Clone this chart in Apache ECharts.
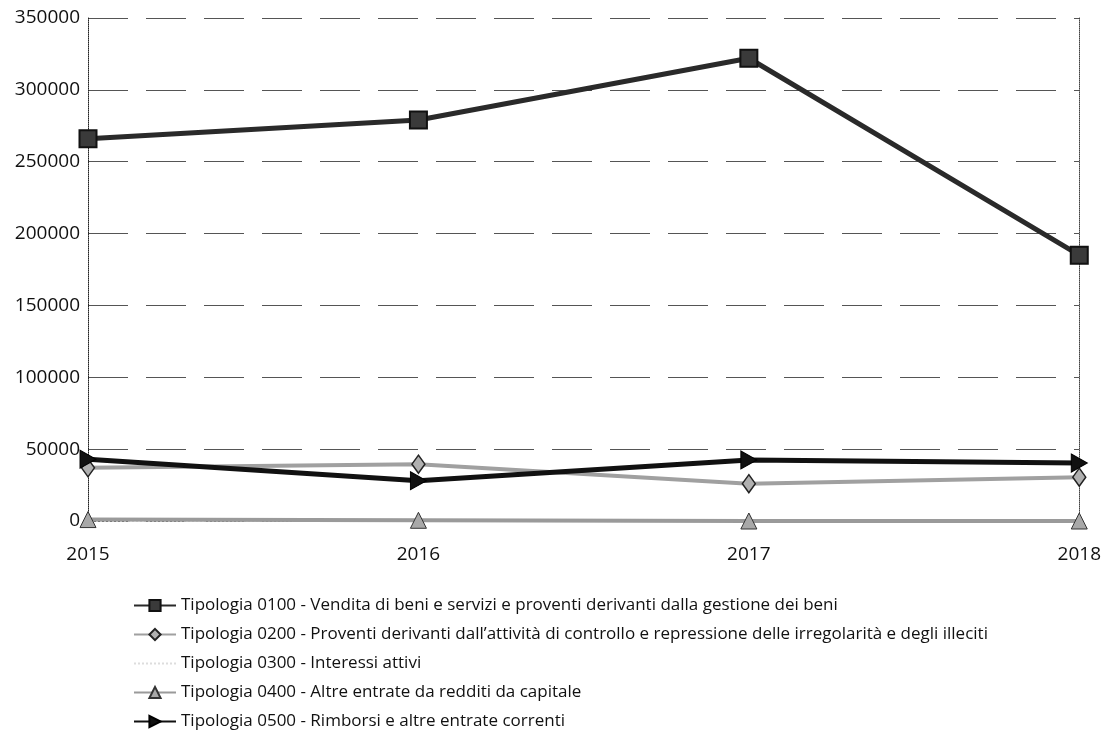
<!DOCTYPE html>
<html>
<head>
<meta charset="utf-8">
<script src="https://cdn.jsdelivr.net/npm/echarts@6/dist/echarts.min.js"></script>
<style>
html,body{margin:0;padding:0;background:#fff;}
#c{width:1104px;height:749px;}
</style>
</head>
<body>
<div id="c"></div>
<script>
const years = ['2015', '2016', '2017', '2018'];
const yTicks = [0, 50000, 100000, 150000, 200000, 250000, 300000, 350000];
const names = [
  'Tipologia 0100 - Vendita di beni e servizi e proventi derivanti dalla gestione dei beni',
  'Tipologia 0200 - Proventi derivanti dall\u2019attività di controllo e repressione delle irregolarità e degli illeciti',
  'Tipologia 0300 - Interessi attivi',
  'Tipologia 0400 - Altre entrate da redditi da capitale',
  'Tipologia 0500 - Rimborsi e altre entrate correnti'
];
const t0100 = [266000, 279000, 322000, 185000];
const t0200 = [37000, 39500, 26000, 30500];
const t0300 = [0, 0, 0, 0];
const t0400 = [1000, 500, 0, 0];
const t0500 = [43000, 28000, 42500, 40300];

const chart = echarts.init(document.getElementById('c'));
const FONT = 'Open Sans';
chart.setOption({
  animation: false,
  backgroundColor: '#fff',
  grid: {left: 88, right: 22, top: 18, bottom: 228},
  xAxis: {
    type: 'category', data: years, boundaryGap: false,
    axisLine: {show: false}, axisTick: {show: false},
    axisLabel: {color: '#111', fontFamily: FONT, fontSize: 19, margin: 24},
    splitLine: {show: false}
  },
  yAxis: [{
    type: 'value', min: yTicks[0], max: yTicks[yTicks.length - 1], interval: 50000,
    axisLine: {show: true, lineStyle: {color: '#222', type: 'dotted', width: 1}},
    axisTick: {show: false},
    axisLabel: {color: '#111', fontFamily: FONT, fontSize: 19, margin: 8, formatter: v => String(v)},
    splitLine: {show: true, lineStyle: {color: '#555', type: [40, 18], width: 1}}
  }, {
    type: 'value', min: yTicks[0], max: yTicks[yTicks.length - 1], interval: 50000,
    position: 'right',
    axisLine: {show: true, lineStyle: {color: '#444', type: 'dotted', width: 1}},
    axisTick: {show: false}, axisLabel: {show: false}, splitLine: {show: false}
  }],
  legend: {
    orient: 'vertical', left: 128, top: 592, itemGap: 12, itemWidth: 42, itemHeight: 14,
    textStyle: {color: '#111', fontFamily: 'Open Sans', fontSize: 17},
    data: names
  },
  series: [
    {name: names[0], type: 'line', data: t0100, symbol: 'rect', symbolSize: 17,
     lineStyle: {color: '#2a2a2a', width: 5},
     itemStyle: {color: '#3a3a3a', borderColor: '#111', borderWidth: 2}, z: 5},
    {name: names[1], type: 'line', data: t0200, symbol: 'diamond', symbolSize: [13, 18],
     lineStyle: {color: '#a0a0a0', width: 4},
     itemStyle: {color: '#b0b0b0', borderColor: '#222', borderWidth: 1.5}, z: 4},
    {name: names[2], type: 'line', data: t0300, symbol: 'none',
     lineStyle: {color: '#dddddd', width: 2, type: 'dotted'},
     itemStyle: {color: 'rgba(0,0,0,0)'}, z: 2},
    {name: names[3], type: 'line', data: t0400, symbol: 'triangle', symbolSize: 16,
     lineStyle: {color: '#9a9a9a', width: 4},
     itemStyle: {color: '#a8a8a8', borderColor: '#333', borderWidth: 1}, z: 3},
    {name: names[4], type: 'line', data: t0500, symbol: 'path://M0,0 L12,7 L0,14 Z', symbolSize: [16, 18],
     lineStyle: {color: '#111', width: 5},
     itemStyle: {color: '#111', borderColor: '#000', borderWidth: 1}, z: 6}
  ]
});
</script>
</body>
</html>
